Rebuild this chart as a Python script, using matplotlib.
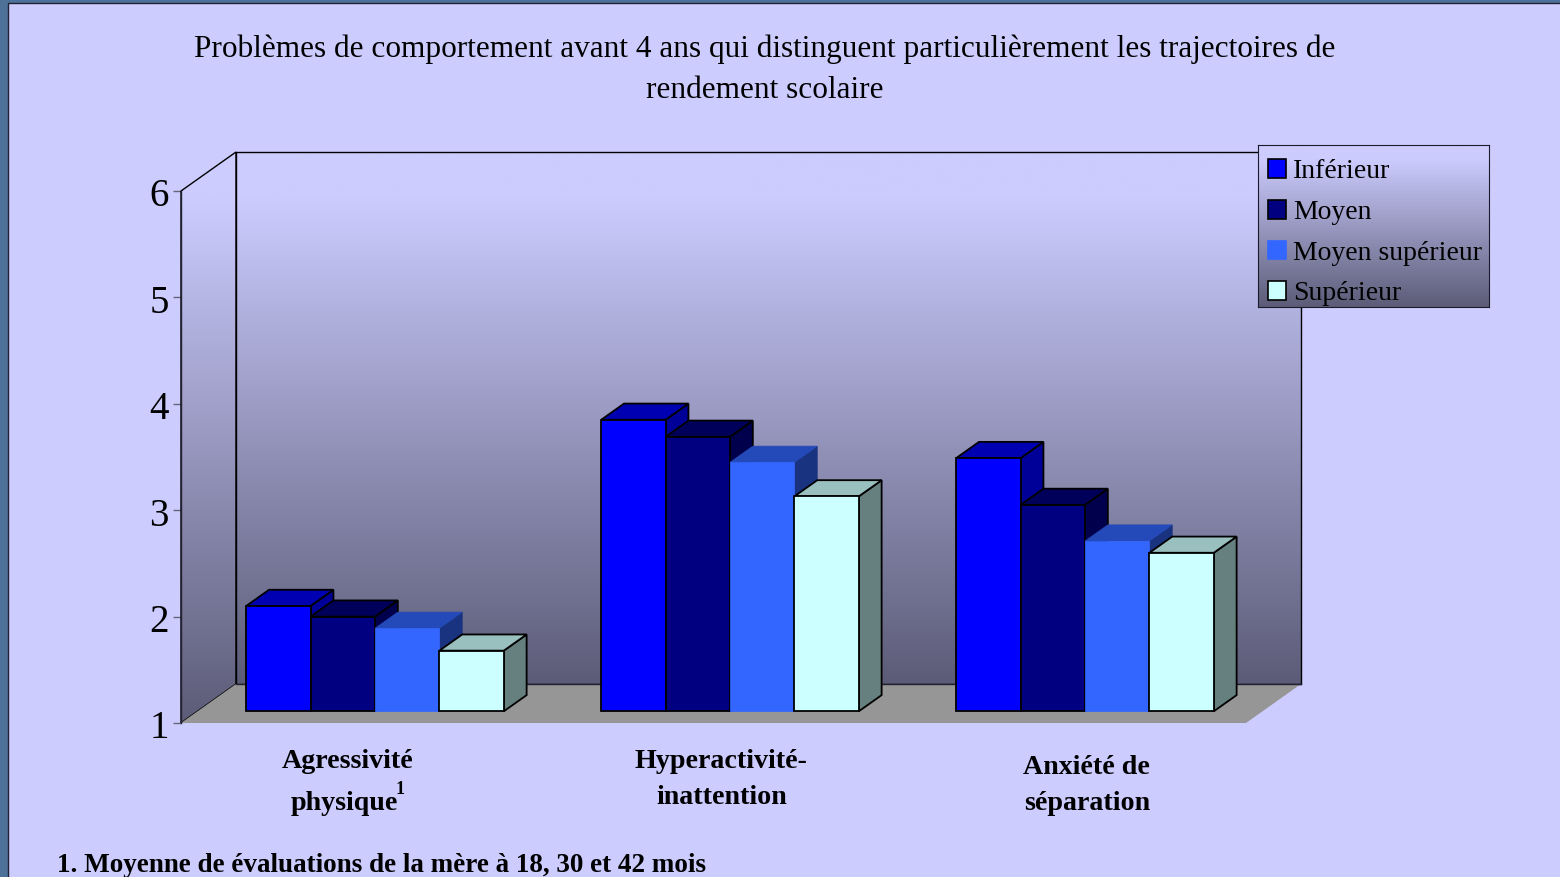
import numpy as np
import matplotlib
matplotlib.use("Agg")
import matplotlib.pyplot as plt
from matplotlib.colors import LinearSegmentedColormap
from matplotlib.patches import Patch, Polygon, Rectangle
from matplotlib.transforms import ScaledTranslation

plt.rcParams['font.family'] = ['Liberation Serif', 'DejaVu Serif']

# values
categories = ["Agressivité physique", "Hyperactivité-inattention", "Anxiété de séparation"]
series_names = ["Inférieur", "Moyen", "Moyen supérieur", "Supérieur"]
inferieur = [1.99, 3.74, 3.38]
moyen = [1.89, 3.58, 2.94]
moyen_sup = [1.78, 3.34, 2.60]
superieur = [1.57, 3.02, 2.49]
y_ticks = [1, 2, 3, 4, 5, 6]

title = "Problèmes de comportement avant 4 ans qui distinguent particulièrement les trajectoires de\nrendement scolaire"
footnote = "1. Moyenne de évaluations de la mère à 18, 30 et 42 mois"

W, H = 1560, 877
front = ['#0000FF', '#000080', '#3366FF', '#CCFFFF']
top = ['#0000B3', '#00005A', '#2449B8', '#99C0BF']
side = ['#000099', '#00004D', '#1A3380', '#668080']
edge = ['black', 'black', '#3366FF', 'black']

fig = plt.figure(figsize=(W / 100, H / 100), dpi=100, facecolor='#4E7199')
fig.patches.append(Rectangle((8 / W, -0.01), 1, 1.01 - 3 / H, transform=fig.transFigure, zorder=-1,
                             facecolor='#CCCCFF', edgecolor='#222233', linewidth=1))

# the front plane of the 3D box is the real axes
ax = fig.add_axes([181 / W, (H - 723) / H, 1065 / W, 532 / H])
ax.set_xlim(0, 3)
ax.set_ylim(1, 6)
ax.patch.set_alpha(0)
for s in ['top', 'right', 'bottom']:
    ax.spines[s].set_visible(False)
ax.spines['left'].set_color('#222233')
ax.spines['left'].set_linewidth(1)
ax.set_xticks([])
ax.set_yticks(y_ticks)
ax.tick_params(axis='y', length=5.8, width=1, color='#666677', labelsize=28, pad=3)
for lab in ax.get_yticklabels():
    lab.set_transform(lab.get_transform() + ScaledTranslation(0, -1.5 / 100, fig.dpi_scale_trans))

# depth of the box in axis units
DX = 55 / 355
DY = 39 / 106.4


def proj(x, v, d):
    return (x + d * DX, v + d * DY)


stops = [(0, '#CCCCFF'), (0.08, '#CCCCFF'), (1, '#5C5C78')]
wall_cmap = LinearSegmentedColormap.from_list('wall', stops, N=256)
grad = np.linspace(0, 1, 256).reshape(-1, 1)

back = [proj(0, 1, 1), proj(3, 1, 1), proj(3, 6, 1), proj(0, 6, 1)]
wall = [proj(0, 1, 0), proj(0, 1, 1), proj(0, 6, 1), proj(0, 6, 0)]
floor = [proj(0, 1, 0), proj(3, 1, 0), proj(3, 1, 1), proj(0, 1, 1)]

for poly in [back, wall]:
    xs, ys = zip(*poly)
    im = ax.imshow(grad, cmap=wall_cmap, aspect='auto', zorder=1,
                   extent=(min(xs), max(xs), min(ys), max(ys)), origin='upper')
    p = Polygon(poly, closed=True, facecolor='none', edgecolor='black', linewidth=1, zorder=2, clip_on=False)
    ax.add_patch(p)
    im.set_clip_path(p)
    im.set_clip_box(fig.bbox)
ax.add_patch(Polygon(floor, closed=True, facecolor='#969696', edgecolor='none', zorder=2, clip_on=False))
ax.plot(*zip(proj(0, 1, 1), proj(3, 1, 1)), color='#222233', lw=1, zorder=3, clip_on=False)
ax.set_xlim(0, 3)
ax.set_ylim(1, 6)

# bars
bar_w = 64.4 / 355
d0, d1 = 0.30, 0.715
all_values = [inferieur, moyen, moyen_sup, superieur]
for c in range(len(categories)):
    for s, vals in enumerate(all_values):
        x0 = c + 0.5 - 2 * bar_w + s * bar_w
        x1 = x0 + bar_w
        v = vals[c]
        z = 5 + c * 10 + s
        f = [proj(x0, 1, d0), proj(x1, 1, d0), proj(x1, v, d0), proj(x0, v, d0)]
        t = [proj(x0, v, d0), proj(x1, v, d0), proj(x1, v, d1), proj(x0, v, d1)]
        r = [proj(x1, 1, d0), proj(x1, 1, d1), proj(x1, v, d1), proj(x1, v, d0)]
        lw = 1.3 if edge[s] == 'black' else 0.5
        ax.add_patch(Polygon(r, closed=True, facecolor=side[s], edgecolor=edge[s] if s != 2 else side[s], lw=lw, zorder=z, clip_on=False))
        ax.add_patch(Polygon(t, closed=True, facecolor=top[s], edgecolor=edge[s] if s != 2 else top[s], lw=lw, zorder=z, clip_on=False))
        ax.add_patch(Polygon(f, closed=True, facecolor=front[s], edgecolor=edge[s], lw=lw, zorder=z, clip_on=False))

# texts
fig.text(765 / W, 1 - 70 / H, title, ha='center', va='center', fontsize=22.5, linespacing=1.56)
fig.text(348 / W, 1 - 761 / H, "Agressivité", ha='center', va='center', fontsize=20.2, weight='bold')
fig.text(344 / W, 1 - 804 / H, "physique", ha='center', va='center', fontsize=20.2, weight='bold')
fig.text(396 / W, 1 - 790 / H, "1", ha='left', va='center', fontsize=13, weight='bold')
fig.text(721 / W, 1 - 761 / H, "Hyperactivité-", ha='center', va='center', fontsize=20.2, weight='bold')
fig.text(722 / W, 1 - 797 / H, "inattention", ha='center', va='center', fontsize=20.2, weight='bold')
fig.text(1086 / W, 1 - 767 / H, "Anxiété de", ha='center', va='center', fontsize=20.2, weight='bold')
fig.text(1087 / W, 1 - 804 / H, "séparation", ha='center', va='center', fontsize=20.2, weight='bold')
fig.text(57 / W, 1 - 866 / H, footnote, ha='left', va='center', fontsize=19.5, weight='bold')

# legend box with the same gradient
leg_ax = fig.add_axes([1258 / W, (H - 307) / H, 231 / W, 162 / H], zorder=10)
leg_ax.imshow(grad, cmap=wall_cmap, aspect='auto')
leg_ax.set_xticks([])
leg_ax.set_yticks([])
for sp in leg_ax.spines.values():
    sp.set_color('#1A1A2A')
handles = [Patch(facecolor=front[i], edgecolor=edge[i] if edge[i] == 'black' else front[i], lw=1.2) for i in range(4)]
leg_ax.legend(handles, series_names, loc='center left', bbox_to_anchor=(0.0, 0.458), frameon=False,
              fontsize=20, handlelength=0.65, handleheight=0.65, handletextpad=0.27,
              labelspacing=0.56, borderaxespad=0, borderpad=0.35)

fig.savefig('out.png', dpi=100, facecolor=fig.get_facecolor())
